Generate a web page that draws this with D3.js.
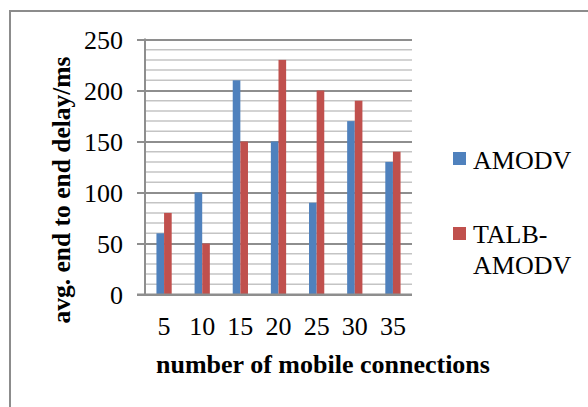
<!DOCTYPE html>
<html>
<head>
<meta charset="utf-8">
<script src="https://cdn.jsdelivr.net/npm/d3@7"></script>
<style>
  html, body { margin: 0; padding: 0; background: #fff; }
  svg { display: block; }
  text { font-family: "Liberation Serif", "Times New Roman", serif; fill: #000; }
</style>
</head>
<body>
<svg id="chart" width="588" height="407"></svg>
<script>
// Average end-to-end delay per number of mobile connections
const categories = ["5", "10", "15", "20", "25", "30", "35"];
const amodv = [60, 100, 210, 150, 90, 170, 130];
const talbAmodv = [80, 50, 150, 230, 200, 190, 140];
const seriesNames = ["AMODV", "TALB-AMODV"];
const yTicks = [0, 50, 100, 150, 200, 250];

const colors = ["#4F81BD", "#C0504D"];
const svg = d3.select("#chart");

// outer frame
svg.append("rect")
  .attr("x", 10).attr("y", 11).attr("width", 600).attr("height", 420)
  .attr("fill", "none").attr("stroke", "#8c8c8c").attr("stroke-width", 2);

const plotL = 145, plotR = 412, plotT = 39.5, plotB = 294.5;

const x = d3.scaleBand().domain(categories).range([plotL, plotR]).paddingInner(0).paddingOuter(0);
const y = d3.scaleLinear().domain([0, 250]).range([plotB, plotT]);

// minor gridlines every 10
const minor = d3.range(10, 250, 10).filter(v => v % 50 !== 0);
svg.append("g").selectAll("line").data(minor).join("line")
  .attr("x1", plotL).attr("x2", plotR)
  .attr("y1", d => y(d)).attr("y2", d => y(d))
  .attr("stroke", "#c4c4c4").attr("stroke-width", 1.5);

// major gridlines with outside ticks
const yAxis = d3.axisLeft(y).tickValues(yTicks).tickSize(-(plotR - plotL)).tickFormat("");
const gy = svg.append("g").attr("transform", `translate(${plotL},0)`).call(yAxis);
gy.select(".domain").remove();
gy.selectAll(".tick line").attr("stroke", "#8e8e8e").attr("stroke-width", 2)
  .attr("x1", -8);

// bars
const barW = x.bandwidth() * 0.2;
const seriesData = [amodv, talbAmodv];
seriesData.forEach((vals, si) => {
  svg.append("g").selectAll("rect").data(vals).join("rect")
    .attr("x", (d, i) => x(categories[i]) + x.bandwidth() / 2 - barW + si * barW)
    .attr("y", d => y(d))
    .attr("width", barW)
    .attr("height", d => y(0) - y(d))
    .attr("fill", colors[si]);
});

// axis lines
svg.append("line").attr("x1", plotL).attr("x2", plotL).attr("y1", plotT - 1).attr("y2", plotB + 1)
  .attr("stroke", "#8e8e8e").attr("stroke-width", 2);
svg.append("line").attr("x1", plotL - 8).attr("x2", plotR).attr("y1", plotB).attr("y2", plotB)
  .attr("stroke", "#8e8e8e").attr("stroke-width", 2);

// y tick labels
svg.append("g").selectAll("text").data(yTicks).join("text")
  .attr("x", 123).attr("y", d => y(d) + 9)
  .attr("text-anchor", "end").attr("font-size", 26)
  .text(d => d);

// x tick labels
svg.append("g").selectAll("text").data(categories).join("text")
  .attr("x", d => x(d) + x.bandwidth() / 2).attr("y", 335)
  .attr("text-anchor", "middle").attr("font-size", 26)
  .text(d => d);

// axis titles
svg.append("text").attr("x", 323).attr("y", 373)
  .attr("text-anchor", "middle").attr("font-size", 26).attr("font-weight", "bold")
  .text("number of mobile connections");
svg.append("text")
  .attr("transform", "translate(70,190) rotate(-90)")
  .attr("text-anchor", "middle").attr("font-size", 25.5).attr("font-weight", "bold")
  .text("avg. end to end delay/ms");

// legend
const legend = svg.append("g");
legend.append("rect").attr("x", 453).attr("y", 152).attr("width", 13).attr("height", 13).attr("fill", colors[0]);
legend.append("text").attr("x", 473).attr("y", 169).attr("font-size", 26).text(seriesNames[0]);
legend.append("rect").attr("x", 453).attr("y", 227).attr("width", 13).attr("height", 13).attr("fill", colors[1]);
legend.append("text").attr("x", 473).attr("y", 243).attr("font-size", 26).text("TALB-");
legend.append("text").attr("x", 473).attr("y", 274).attr("font-size", 26).text("AMODV");
</script>
</body>
</html>
